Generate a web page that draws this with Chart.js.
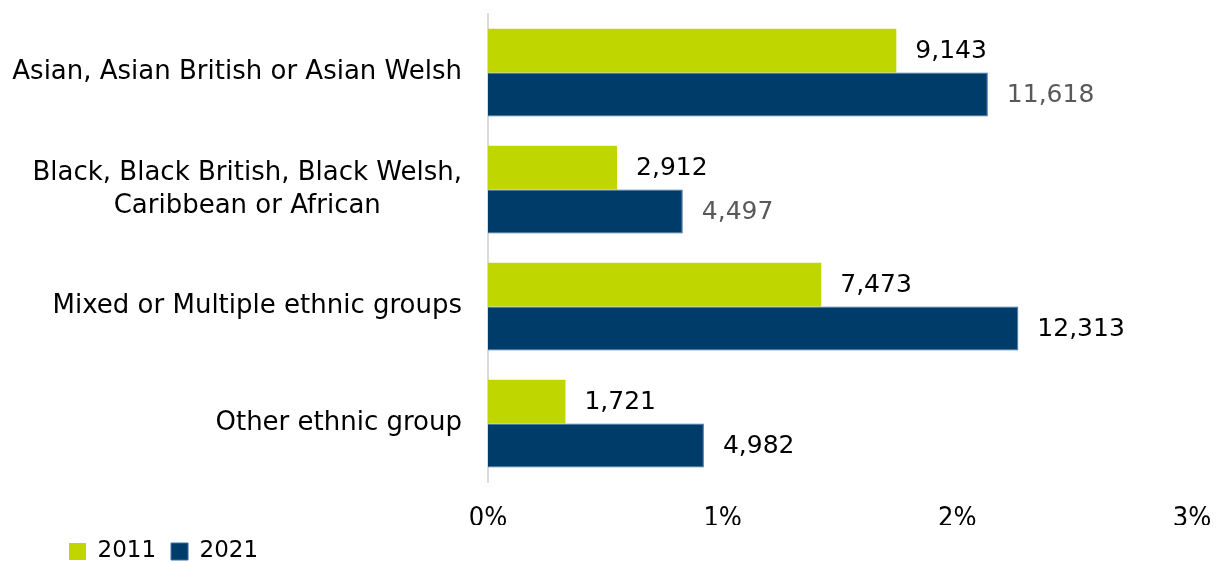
<!DOCTYPE html>
<html>
<head>
<meta charset="utf-8">
<script src="https://cdn.jsdelivr.net/npm/chart.js@4/dist/chart.umd.min.js"></script>
<style>
    html, body { margin: 0; padding: 0; background: #fff; }
    #wrap { width: 1218px; height: 563px; }
</style>
</head>
<body>
<div id="wrap"><canvas id="chart"></canvas></div>
<script>
// categories, top to bottom
const groups = [
    'Asian, Asian British or Asian Welsh',
    ['Black, Black British, Black Welsh,', 'Caribbean or African'],
    'Mixed or Multiple ethnic groups',
    'Other ethnic group'
]
// share of population, percent
const share2011 = [1.74, 0.55, 1.42, 0.33]
const share2021 = [2.13, 0.83, 2.26, 0.92]
// counts printed next to the bars
const count2011 = ['9,143', '2,912', '7,473', '1,721']
const count2021 = ['11,618', '4,497', '12,313', '4,982']
const xTicks = [0, 1, 2, 3]

const font = '"DejaVu Sans", sans-serif'
const narrow = '"Liberation Sans Narrow", "DejaVu Sans Condensed", sans-serif'

// write counts at the end of each bar
const barLabels = {
    id: 'barLabels',
    afterDatasetsDraw(chart) {
        const ctx = chart.ctx
        ctx.save()
        ctx.font = `25px ${font}`
        ctx.textBaseline = 'middle'
        ctx.textAlign = 'left'
        chart.data.datasets.forEach((ds, i) => {
            const meta = chart.getDatasetMeta(i)
            meta.data.forEach((bar, j) => {
                ctx.fillStyle = ds.labelColors[j]
                ctx.fillText(ds.counts[j], bar.x + 19, bar.y + 1)
            })
        })
        ctx.restore()
    }
}

// category names, each block right aligned, wrapped lines centred on each other
const groupLabels = {
    id: 'groupLabels',
    afterDraw(chart) {
        const ctx = chart.ctx
        const yScale = chart.scales.y
        ctx.save()
        ctx.font = `26px ${font}`
        ctx.fillStyle = '#000'
        ctx.textAlign = 'center'
        ctx.textBaseline = 'middle'
        groups.forEach((g, i) => {
            const lines = Array.isArray(g) ? g : [g]
            const w = Math.max(...lines.map(l => ctx.measureText(l).width))
            const cx = yScale.right - 26 - w / 2
            const cy = yScale.getPixelForTick(i)
            lines.forEach((l, k) => {
                ctx.fillText(l, cx, cy + (k - (lines.length - 1) / 2) * 33)
            })
        })
        ctx.restore()
    }
}

// push the legend in from the left edge
const legendShift = {
    id: 'legendShift',
    afterLayout(chart) {
        chart.legend.left += 54
        chart.legend.right += 54
    }
}

new Chart(document.getElementById('chart'), {
    type: 'bar',
    data: {
        labels: groups,
        datasets: [{
            label: '2011',
            data: share2011,
            counts: count2011,
            labelColors: ['#000', '#000', '#000', '#000'],
            backgroundColor: '#c0d600',
            borderWidth: 0
        }, {
            label: '2021',
            data: share2021,
            counts: count2021,
            labelColors: ['#595959', '#595959', '#000', '#000'],
            backgroundColor: '#003c69',
            borderColor: '#3b6ea8',
            borderWidth: 1
        }]
    },
    options: {
        indexAxis: 'y',
        responsive: true,
        maintainAspectRatio: false,
        animation: false,
        layout: { padding: { top: 14, right: 26, left: 0, bottom: -10 } },
        datasets: {
            bar: { categoryPercentage: 0.75, barPercentage: 1 }
        },
        scales: {
            x: {
                min: 0,
                max: 3,
                afterBuildTicks(scale) {
                    scale.ticks = xTicks.map(v => ({ value: v }))
                },
                afterFit(scale) {
                    scale.height = 43
                    scale.paddingLeft = 0
                    scale.paddingRight = 0
                },
                grid: { display: false, drawTicks: false },
                border: { display: false },
                ticks: {
                    padding: 21,
                    color: '#000',
                    font: { family: narrow, size: 27 },
                    callback: v => v + '%'
                }
            },
            y: {
                afterFit(scale) {
                    scale.width = 488
                    scale.paddingTop = 0
                    scale.paddingBottom = 0
                },
                grid: { display: false, drawTicks: false },
                border: { display: true, color: '#d9d9d9', width: 2 },
                ticks: { display: false }
            }
        },
        plugins: {
            legend: {
                position: 'bottom',
                align: 'start',
                labels: {
                    boxWidth: 17,
                    boxHeight: 17,
                    padding: 15,
                    color: '#000',
                    font: { family: font, size: 23 }
                }
            },
            tooltip: { enabled: false }
        }
    },
    plugins: [barLabels, groupLabels, legendShift]
})
</script>
</body>
</html>
